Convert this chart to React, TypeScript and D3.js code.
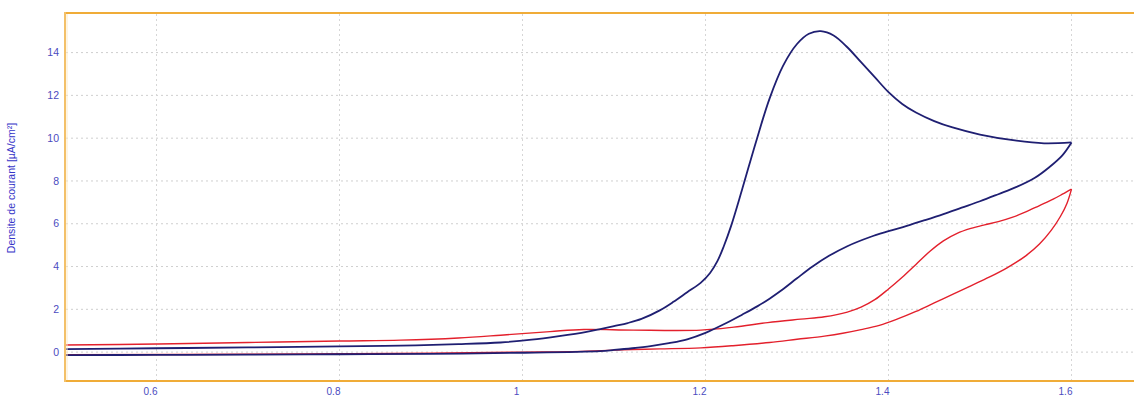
import React from "react";
import * as d3 from "d3";

// Potential (V) and current density (µA/cm²)
const blueFwdE = [0.5, 0.6, 0.7, 0.8, 0.867, 0.93, 0.976, 1.01, 1.04, 1.07, 1.085, 1.1, 1.115, 1.13, 1.15, 1.165, 1.18, 1.195, 1.205, 1.213, 1.22, 1.228, 1.24, 1.255, 1.27, 1.285, 1.3, 1.313, 1.326, 1.34, 1.355, 1.37, 1.385, 1.4, 1.415, 1.43, 1.45, 1.47, 1.5, 1.54, 1.57, 1.6];
const blueFwdJ = [0.14, 0.18, 0.22, 0.27, 0.3, 0.37, 0.45, 0.58, 0.75, 0.95, 1.08, 1.22, 1.36, 1.55, 1.95, 2.35, 2.8, 3.25, 3.7, 4.25, 4.95, 5.9, 7.6, 9.8, 11.85, 13.4, 14.4, 14.88, 15.0, 14.8, 14.25, 13.55, 12.85, 12.15, 11.6, 11.2, 10.8, 10.5, 10.17, 9.88, 9.76, 9.8];

const blueRevE = [1.6, 1.59, 1.575, 1.56, 1.54, 1.52, 1.5, 1.48, 1.46, 1.44, 1.42, 1.4, 1.38, 1.355, 1.335, 1.317, 1.3, 1.285, 1.27, 1.257, 1.24, 1.22, 1.2, 1.18, 1.16, 1.14, 1.12, 1.1, 1.085, 1.0, 0.9, 0.8, 0.7, 0.6, 0.5];
const blueRevJ = [9.8, 9.2, 8.62, 8.15, 7.72, 7.38, 7.05, 6.75, 6.45, 6.17, 5.9, 5.65, 5.38, 4.95, 4.5, 4.0, 3.45, 2.95, 2.5, 2.15, 1.75, 1.3, 0.9, 0.6, 0.42, 0.28, 0.18, 0.1, 0.05, -0.03, -0.08, -0.1, -0.12, -0.13, -0.14];

const redFwdE = [0.5, 0.6, 0.7, 0.8, 0.867, 0.93, 0.976, 1.03, 1.067, 1.121, 1.195, 1.231, 1.268, 1.304, 1.33, 1.355, 1.37, 1.385, 1.4, 1.415, 1.43, 1.445, 1.46, 1.475, 1.49, 1.505, 1.52, 1.535, 1.55, 1.565, 1.58, 1.59, 1.6];
const redFwdJ = [0.33, 0.38, 0.45, 0.52, 0.56, 0.66, 0.79, 0.96, 1.06, 1.03, 1.03, 1.17, 1.38, 1.54, 1.65, 1.87, 2.1, 2.45, 2.95, 3.5, 4.1, 4.7, 5.2, 5.55, 5.78, 5.95, 6.1, 6.3, 6.55, 6.85, 7.15, 7.38, 7.62];

const redRevE = [1.6, 1.595, 1.588, 1.578, 1.565, 1.55, 1.53, 1.51, 1.49, 1.47, 1.45, 1.43, 1.41, 1.39, 1.37, 1.35, 1.33, 1.3, 1.27, 1.23, 1.195, 1.15, 1.12, 1.08, 1.05, 1.0, 0.9, 0.7, 0.5];
const redRevJ = [7.62, 6.95, 6.35, 5.7, 5.05, 4.5, 3.95, 3.5, 3.1, 2.7, 2.3, 1.9, 1.55, 1.25, 1.05, 0.88, 0.75, 0.6, 0.45, 0.3, 0.2, 0.15, 0.12, 0.06, 0.02, 0.0, -0.05, -0.1, -0.12];

const xTicks = [0.6, 0.8, 1.0, 1.2, 1.4, 1.6];
const xTickLabels = ["0.6", "0.8", "1", "1.2", "1.4", "1.6"];
const yTicks = [0, 2, 4, 6, 8, 10, 12, 14];
const yTitle = "Densite de courant [µA/cm²]";

const W = 1134;
const H = 396;

export default function App() {
  const x = d3.scaleLinear().domain([0.5, 1.7]).range([65, 1163]);
  const y = d3.scaleLinear().domain([-1.35, 15.85]).range([381, 13]);

  const line = d3
    .line<[number, number]>()
    .x((d) => x(d[0]))
    .y((d) => y(d[1]))
    .curve(d3.curveCatmullRom.alpha(0.5));

  const pts = (E: number[], J: number[]) => E.map((e, i) => [e, J[i]] as [number, number]);

  const tickColor = "#4b4bc0";
  const font = "'Liberation Sans', Arial, sans-serif";

  return (
    <svg
      width={W}
      height={H}
      style={{ position: "absolute", left: 0, top: 0, background: "#fff" }}
    >
      <defs>
        <clipPath id="plot">
          <rect x={65} y={13} width={W - 65} height={368} />
        </clipPath>
      </defs>
      <rect x={0} y={0} width={W} height={H} fill="#fff" />
      {/* grid */}
      {yTicks.map((t) => (
        <line
          key={"gy" + t}
          x1={66}
          x2={W}
          y1={y(t)}
          y2={y(t)}
          stroke="#cfcfcf"
          strokeWidth={1}
          strokeDasharray="2,3"
        />
      ))}
      {xTicks.map((t) => (
        <line
          key={"gx" + t}
          x1={x(t)}
          x2={x(t)}
          y1={14}
          y2={380}
          stroke="#d6d6d6"
          strokeWidth={1}
          strokeDasharray="2,3"
        />
      ))}
      {/* curves */}
      <g clipPath="url(#plot)" fill="none" strokeLinejoin="round">
        <path d={line(pts(redRevE, redRevJ)) || ""} stroke="#e3202c" strokeWidth={1.4} />
        <path d={line(pts(redFwdE, redFwdJ)) || ""} stroke="#e3202c" strokeWidth={1.4} />
        <path d={line(pts(blueRevE, blueRevJ)) || ""} stroke="#1f1f72" strokeWidth={1.8} />
        <path d={line(pts(blueFwdE, blueFwdJ)) || ""} stroke="#1f1f72" strokeWidth={1.8} />
      </g>
      {/* frame */}
      <line x1={65} x2={W} y1={13} y2={13} stroke="#f0ac38" strokeWidth={2} />
      <line x1={65} x2={W} y1={381} y2={381} stroke="#f0ac38" strokeWidth={2} />
      <line x1={65} x2={65} y1={12} y2={382} stroke="#f3c068" strokeWidth={2} />
      <line x1={67} x2={67} y1={14} y2={380} stroke="#fcebc8" strokeWidth={1} />
      {/* y tick labels */}
      {yTicks.map((t) => (
        <text
          key={"ly" + t}
          x={59}
          y={y(t)}
          dy="0.35em"
          textAnchor="end"
          fontSize={10.5}
          fontFamily={font}
          fill={tickColor}
        >
          {t}
        </text>
      ))}
      {/* x tick labels */}
      {xTicks.map((t, i) => (
        <text
          key={"lx" + t}
          x={x(t) - 6}
          y={395}
          textAnchor="middle"
          fontSize={10}
          fontFamily={font}
          fill={tickColor}
        >
          {xTickLabels[i]}
        </text>
      ))}
      {/* y title */}
      <text
        transform="translate(15,188) rotate(-90)"
        textAnchor="middle"
        fontSize={10.5}
        fontFamily={font}
        fill="#3535c8"
      >
        {yTitle}
      </text>
    </svg>
  );
}
